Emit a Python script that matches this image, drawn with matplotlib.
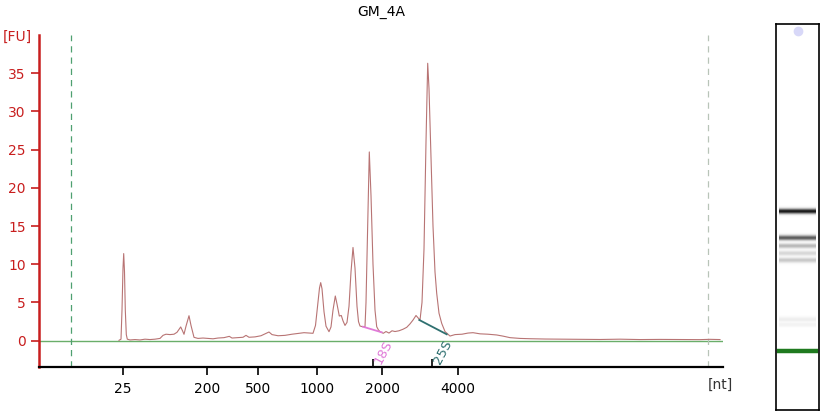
import matplotlib.pyplot as plt
import numpy as np

# electropherogram trace: migration time [s] vs fluorescence [FU]
time_s = [23.00, 23.20, 23.30, 23.40, 23.47, 23.55, 23.63, 23.73, 23.83, 24.10,
          24.60, 25.10, 25.60, 26.10, 26.60, 27.10, 27.40, 27.70, 28.10, 28.50,
          28.80, 29.17, 29.35, 29.50, 29.70, 30.00, 30.20, 30.50, 30.90, 31.40,
          31.90, 32.40, 32.90, 33.50, 34.03, 34.30, 34.90, 35.40, 35.70, 36.00,
          36.60, 37.20, 37.60, 38.00, 38.30, 38.90, 39.60, 40.30, 40.90, 41.50,
          42.00, 42.40, 42.65, 42.85, 43.05, 43.17, 43.30, 43.50, 43.70, 44.00,
          44.20, 44.40, 44.63, 44.80, 45.03, 45.23, 45.40, 45.60, 45.80, 46.00,
          46.20, 46.40, 46.60, 46.80, 46.95, 47.10, 47.30, 47.60, 47.70, 47.85,
          48.03, 48.20, 48.40, 48.60, 48.77, 48.95, 49.10, 49.43, 49.70, 50.00,
          50.30, 50.60, 51.00, 51.40, 51.77, 52.10, 52.40, 52.70, 52.90, 53.10,
          53.30, 53.50, 53.70, 53.87, 54.00, 54.20, 54.40, 54.60, 54.77, 55.00,
          55.27, 55.60, 56.10, 56.60, 57.30, 57.90, 58.40, 59.10, 59.90, 60.77,
          61.40, 62.10, 63.10, 64.10, 65.60, 67.10, 69.10, 71.10, 73.10, 75.10,
          77.10, 79.10, 81.10, 82.10, 83.10]
fu = [0.05, 0.2, 4.0, 9.5, 11.4, 9.0, 4.0, 0.8, 0.2, 0.1,
      0.15, 0.1, 0.2, 0.15, 0.2, 0.3, 0.7, 0.85, 0.8, 0.85,
      1.1, 1.8, 1.3, 0.84, 1.9, 3.27, 2.0, 0.44, 0.3, 0.35,
      0.3, 0.25, 0.35, 0.4, 0.57, 0.35, 0.4, 0.45, 0.7, 0.45,
      0.5, 0.65, 0.9, 1.14, 0.8, 0.65, 0.7, 0.85, 0.95, 1.05,
      1.0, 0.97, 2.0, 4.5, 6.9, 7.6, 6.8, 3.8, 1.9, 1.18,
      1.8, 4.0, 5.85, 4.8, 3.23, 3.3, 2.6, 2.0, 2.4, 4.5,
      9.0, 12.2, 9.5, 4.5, 2.5, 1.92, 1.85, 1.83, 5.0, 14.0,
      24.7, 19.0, 10.0, 4.0, 1.83, 1.4, 1.18, 0.97, 1.2, 1.0,
      1.3, 1.2, 1.3, 1.5, 1.75, 2.2, 2.7, 3.3, 3.0, 2.7,
      5.0, 12.0, 26.0, 36.3, 33.0, 24.0, 15.0, 9.0, 6.2, 3.6,
      2.27, 1.2, 0.61, 0.8, 0.85, 1.0, 1.05, 0.9, 0.85, 0.75,
      0.6, 0.4, 0.3, 0.26, 0.22, 0.2, 0.18, 0.16, 0.2, 0.15,
      0.17, 0.15, 0.14, 0.18, 0.15]

# ladder size labels and where they sit on the time axis
size_labels = ["25", "200", "500", "1000", "2000", "4000"]
size_times = [23.4, 31.77, 36.87, 42.83, 49.33, 56.87]

# ribosomal peak markers
rrna_names = ["18S", "25S"]
rrna_times = [48.37, 54.3]
rrna_start = [(47.4, 1.83), (53.03, 2.71)]
rrna_end = [(49.27, 1.10), (55.77, 0.84)]
rrna_colors = ["#e07ad8", "#2f7070"]

start_marker, end_marker = 18.23, 81.93

# gel lane bands: relative position from top, intensity
band_pos = [0.485, 0.554, 0.575, 0.594, 0.612, 0.766, 0.779]
band_int = [0.92, 0.65, 0.28, 0.16, 0.22, 0.07, 0.05]
marker_band = 0.846

red = "#c81e1e"
fig = plt.figure(figsize=(8.27, 4.18), dpi=100)
ax = fig.add_axes([39 / 827, 51 / 418, 684 / 827, 332 / 418])

ax.axhline(0, color="#6aae6a", lw=1.0, zorder=1)
ax.axvline(start_marker, color="#4fa070", lw=0.9, ls=(0, (5, 4)))
ax.axvline(end_marker, color="#b8c4b8", lw=0.9, ls=(0, (5, 4)))
ax.plot(time_s, fu, color="#b87474", lw=0.8, zorder=3)

for name, t, s, e, c in zip(rrna_names, rrna_times, rrna_start, rrna_end, rrna_colors):
    ax.plot([s[0], e[0]], [s[1], e[1]], color=c, lw=1.3, zorder=4)
    ax.text(t + 1.1, -1.5, name, color=c, fontsize=9.5, rotation=62,
            ha="center", va="center")

ax.set_xlim(15.0, 83.4)
ax.set_ylim(-3.44, 40)
ax.set_yticks(range(0, 40, 5))
ax.set_xticks(size_times)
ax.set_xticklabels(size_labels)
ax.set_xticks(rrna_times, minor=True)
ax.tick_params(axis="x", which="major", direction="out", length=6, width=1.2,
               labelsize=10, pad=5, colors="black")
ax.tick_params(axis="x", which="minor", direction="in", length=6, width=1.2)
ax.tick_params(axis="y", direction="out", length=6, width=1.2, colors=red,
               labelsize=10, labelcolor=red)

for side in ["top", "right"]:
    ax.spines[side].set_visible(False)
ax.spines["left"].set_color(red)
ax.spines["left"].set_linewidth(1.8)
ax.spines["bottom"].set_linewidth(1.6)

fig.text(17 / 827, 1 - 37 / 418, "[FU]", color=red, fontsize=10, ha="center", va="center")
fig.text(720 / 827, 1 - 385 / 418, "[nt]", color="#333333", fontsize=10, ha="center", va="center")
fig.text(381 / 827, 1 - 12 / 418, "GM_4A", fontsize=10, ha="center", va="center")

# gel lane
gax = fig.add_axes([776 / 827, 8 / 418, 43 / 827, 386 / 418])
rows = np.linspace(0, 1, 400)
dark = np.zeros_like(rows)
for p, i in zip(band_pos, band_int):
    dark = np.maximum(dark, i * np.exp(-0.5 * ((rows - p) / 0.0045) ** 2))
img = np.repeat((1 - dark)[:, None], 2, axis=1)
gax.imshow(img, cmap="gray", vmin=0, vmax=1, aspect="auto",
           extent=[0.07, 0.93, 1, 0], interpolation="bilinear")
gax.plot([0.07, 0.93], [marker_band, marker_band], color="#1f7a1f", lw=3.2)
gax.plot(0.5, 0.017, "o", color="#d8d8f8", ms=6)
gax.set_xlim(0, 1)
gax.set_ylim(1, 0)
gax.set_xticks([])
gax.set_yticks([])
for s in gax.spines.values():
    s.set_linewidth(1.2)

fig.savefig("out.png", dpi=100)
